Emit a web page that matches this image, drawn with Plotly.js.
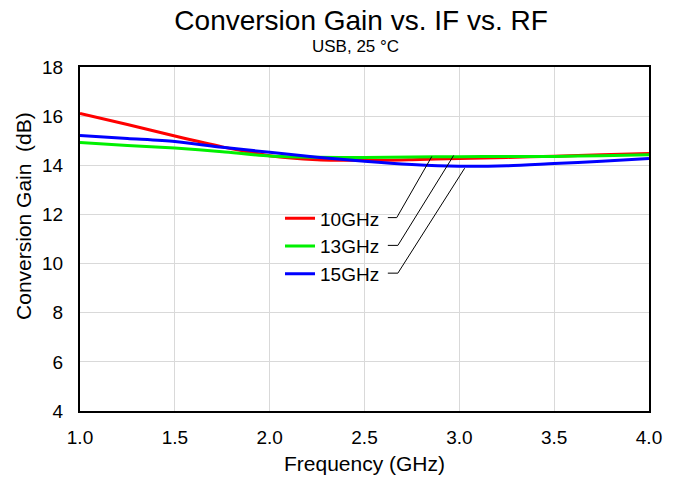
<!DOCTYPE html>
<html>
<head>
<meta charset="utf-8">
<script src="https://cdn.plot.ly/plotly-3.0.1.min.js"></script>
<style>html,body{margin:0;padding:0;background:#fff;}#chart{width:681px;height:477px;}</style>
</head>
<body>
<div id="chart"></div>
<script>
const freq = [1.0, 1.25, 1.5, 1.75, 2.0, 2.25, 2.5, 2.75, 3.0, 3.25, 3.5, 3.75, 4.0];
const gain10 = [16.11, 15.66, 15.19, 14.75, 14.39, 14.23, 14.20, 14.23, 14.28, 14.32, 14.37, 14.43, 14.48];
const gain13 = [14.93, 14.81, 14.70, 14.55, 14.38, 14.33, 14.32, 14.34, 14.35, 14.36, 14.36, 14.39, 14.43];
const gain15 = [15.21, 15.09, 14.97, 14.73, 14.53, 14.33, 14.16, 14.03, 13.96, 13.98, 14.07, 14.16, 14.28];
const seriesNames = ['10GHz', '13GHz', '15GHz'];
const seriesColors = ['#ff0000', '#00f000', '#0000ff'];
const xTicks = [1.0, 1.5, 2.0, 2.5, 3.0, 3.5, 4.0];
const yTicks = [4, 6, 8, 10, 12, 14, 16, 18];

const font = 'Liberation Sans, Arial, sans-serif';
const series = [gain10, gain13, gain15];
const traces = series.map((g, i) => ({
  x: freq, y: g, type: 'scatter', mode: 'lines', name: seriesNames[i],
  line: {color: seriesColors[i], width: 3, shape: 'spline', smoothing: 0.8}
}));

// leader lines from legend labels to curves
const leaders = [
  [[2.623, 11.87], [2.670, 11.87], [2.855, 14.36]],
  [[2.623, 10.74], [2.676, 10.74], [2.970, 14.40]],
  [[2.623, 9.61], [2.676, 9.61], [3.028, 13.88]]
];
const shapes = leaders.map(p => ({
  type: 'path', xref: 'x', yref: 'y',
  path: 'M' + p.map(q => q[0] + ',' + q[1]).join(' L'),
  line: {color: '#000', width: 1}
}));

const layout = {
  width: 681, height: 477,
  margin: {l: 80, r: 32, t: 67, b: 66},
  paper_bgcolor: '#fff', plot_bgcolor: '#fff',
  font: {family: font, color: '#000', size: 19},
  title: {text: 'Conversion Gain vs. IF vs. RF', font: {family: font, size: 28, color: '#000'},
          x: 0.494, xref: 'paper', y: 0.958, yref: 'container', yanchor: 'middle'},
  annotations: [
    {text: 'USB, 25 °C', xref: 'paper', yref: 'paper', x: 0.484, y: 1.061,
     xanchor: 'center', yanchor: 'middle', showarrow: false,
     font: {family: font, size: 17, color: '#000'}},
    {text: 'Conversion Gain\u00a0 (dB)', xref: 'paper', yref: 'paper', x: -0.0984, y: 0.567,
     xanchor: 'center', yanchor: 'middle', textangle: -90, showarrow: false,
     font: {family: font, size: 21, color: '#000'}}
  ],
  xaxis: {
    range: [1.0, 4.0], tickvals: xTicks, ticktext: xTicks.map(v => v.toFixed(1)),
    showgrid: true, gridcolor: '#d9d9d9', gridwidth: 1,
    showline: true, linecolor: '#000', linewidth: 2, mirror: true,
    ticks: '', zeroline: false, ticklabelstandoff: 8,
    tickfont: {family: font, size: 19},
    title: {text: 'Frequency (GHz)', font: {family: font, size: 21}, standoff: 10}
  },
  yaxis: {
    range: [4, 18], tickvals: yTicks,
    showgrid: true, gridcolor: '#d9d9d9', gridwidth: 1,
    showline: true, linecolor: '#000', linewidth: 2, mirror: true,
    ticks: '', zeroline: false, ticklabelstandoff: 11,
    tickfont: {family: font, size: 19}
  },
  legend: {
    x: 0.3515, y: 0.615, xanchor: 'left', yanchor: 'top',
    bgcolor: 'rgba(0,0,0,0)', borderwidth: 0,
    font: {family: font, size: 19}, itemwidth: 30,
    traceorder: 'normal'
  },
  shapes: shapes,
  showlegend: true
};

Plotly.newPlot('chart', traces, layout, {displayModeBar: false, staticPlot: true});
</script>
</body>
</html>
